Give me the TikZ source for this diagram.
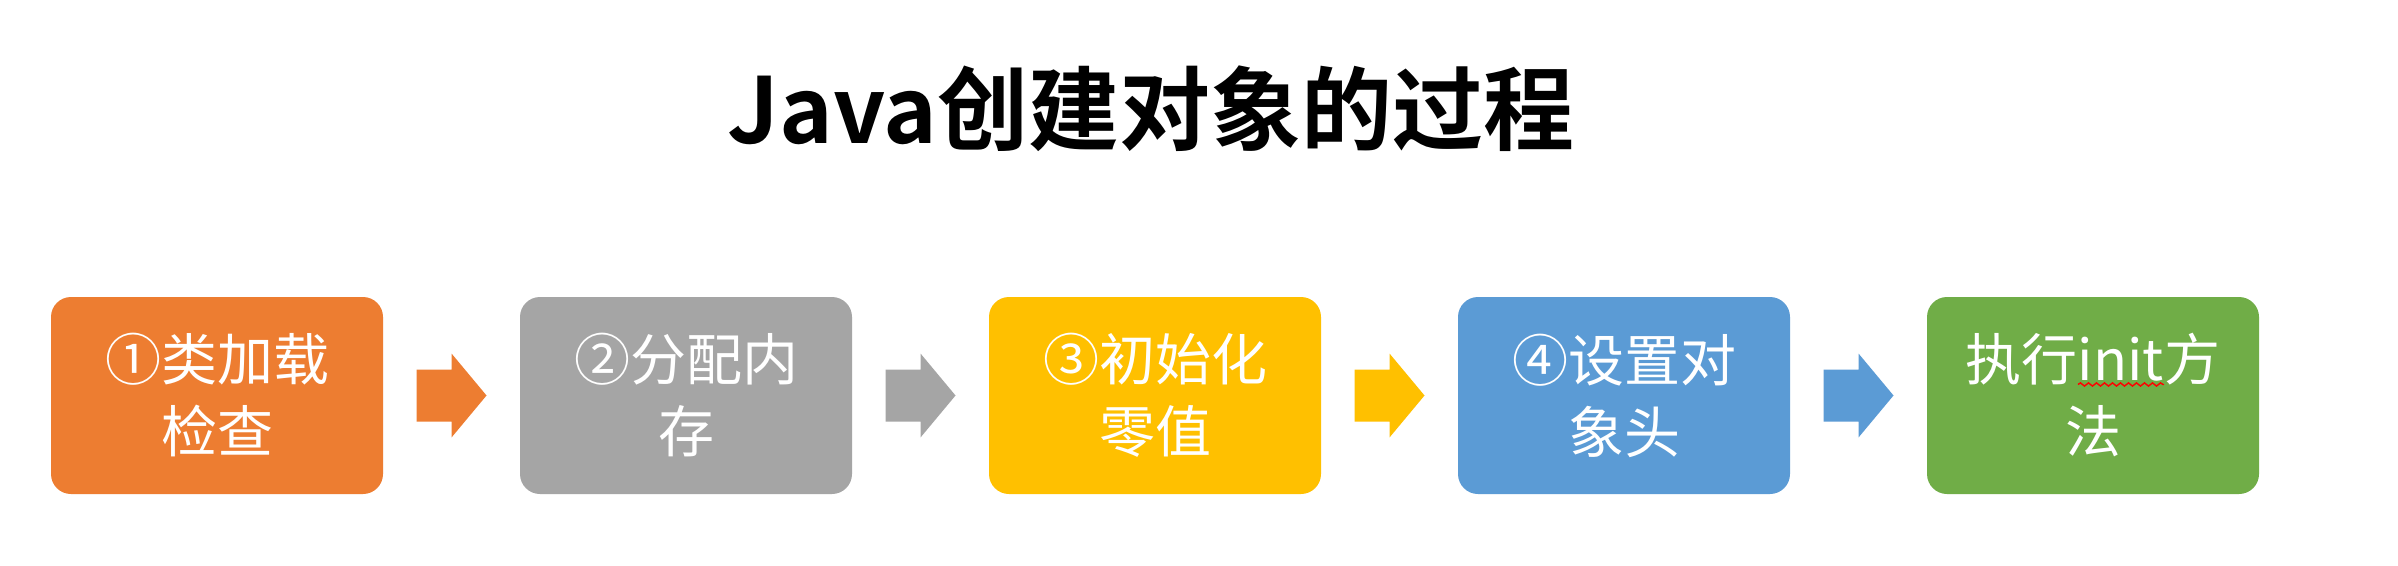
\documentclass[tikz,border=0pt]{standalone}
\usepackage{fontspec}
\setmainfont{Noto Sans CJK SC}[BoldFont={Noto Sans CJK SC Bold}]
\usetikzlibrary{calc,decorations.pathmorphing}
\definecolor{corange}{HTML}{ED7D31}
\definecolor{cgray}{HTML}{A5A5A5}
\definecolor{cyellow}{HTML}{FFC000}
\definecolor{cblue}{HTML}{5B9BD5}
\definecolor{cgreen}{HTML}{70AD47}
\newcommand\spellerr[1]{\tikz[baseline=(sq.base),sharp corners]{\node[inner sep=0pt,outer sep=0pt,minimum width=0pt,minimum height=0pt,fill=none,draw=none,text=white,align=left](sq){#1};\draw[red,fill=none,line width=1.4pt,decorate,decoration={snake,amplitude=1.6pt,segment length=8pt}] ([yshift=-3.5pt]sq.base west) -- ([yshift=-3.5pt]sq.base east);}}
\tikzset{
  stepbox/.style={rounded corners=20pt, minimum width=332pt, minimum height=197pt, inner sep=0pt, text=white, align=center, font=\fontsize{56pt}{72pt}\selectfont},
  titletext/.style={font=\fontsize{91pt}{110pt}\selectfont\bfseries, inner sep=0pt}
}
\begin{document}
\begin{tikzpicture}[x=1pt,y=-1pt]
\useasboundingbox (0,0) rectangle (2398,565);
\fill[white] (0,0) rectangle (2398,565);
\node[titletext, anchor=base] (title) at (1151,143) {Java创建对象的过程};
\node[stepbox, fill=corange] (b1) at (217,395.5) {①类加载\\检查};
\node[stepbox, fill=cgray] (b2) at (686,395.5) {②分配内\\存};
\node[stepbox, fill=cyellow] (b3) at (1155,395.5) {③初始化\\零值};
\node[stepbox, fill=cblue] (b4) at (1624,395.5) {④设置对\\象头};
\node[stepbox, fill=cgreen] (b5) at (2093,395.5) {执行\spellerr{init}方\\法};
\foreach \a/\b/\c in {b1/b2/corange,b2/b3/cgray,b3/b4/cyellow,b4/b5/cblue}{
  \fill[\c] ($(\a.east)!0.5!(\b.west)$) ++(-35,-26) -- ++(35,0) -- ++(0,-16) -- ++(35,42) -- ++(-35,42) -- ++(0,-16) -- ++(-35,0) -- cycle;
}
\end{tikzpicture}
\end{document}
